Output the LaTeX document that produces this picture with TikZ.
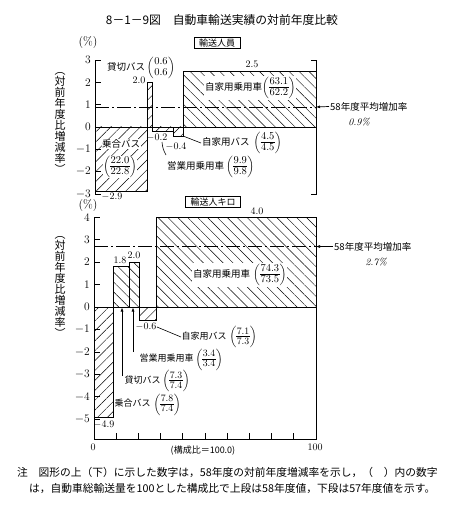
\documentclass[tikz,border=0pt]{standalone}
\usepackage{fontspec}
\usepackage{amsmath}
\usetikzlibrary{patterns.meta,arrows.meta}
\newfontfamily\jp{Noto Sans CJK JP}
\newcommand\frbody[3]{\ensuremath{\left(\vcenter{\hbox{\rmfamily\upshape\fontsize{10.5}{11}\selectfont\setlength\tabcolsep{0.5pt}\renewcommand\arraystretch{0.85}\begin{tabular}{c}#1\\#3\rule{0pt}{8pt}#2\end{tabular}}}\right)}}
\newcommand\fr[2]{\frbody{#1}{#2}{\hline}}
\newcommand\frn[2]{\frbody{#1}{#2}{}}
\newcommand\frs[2]{\ensuremath{\left(\vcenter{\hbox{\rmfamily\upshape\fontsize{9.8}{10}\selectfont\setlength\tabcolsep{0.5pt}\renewcommand\arraystretch{0.8}\begin{tabular}{c}#1\\\hline\rule{0pt}{7.3pt}#2\end{tabular}}}\right)}}
\begin{document}
\begin{tikzpicture}[x=1pt,y=-1pt,
  ax/.style={line width=0.8pt},
  bar/.style={draw,line width=0.8pt},
  ne/.style={pattern={Lines[angle=45,distance=7pt,line width=0.45pt]}},
  nw/.style={pattern={Lines[angle=-45,distance=7pt,line width=0.45pt]}},
  lab/.style={font=\jp\fontsize{9.5}{11}\selectfont, inner sep=1pt},
  labs/.style={font=\jp\fontsize{9}{10.5}\selectfont, inner sep=1pt},
  num/.style={font=\fontsize{10}{12}\selectfont, inner sep=0.5pt},
  tk/.style={font=\fontsize{11.5}{13}\selectfont, anchor=east, inner sep=1pt},
  hbox/.style={draw, line width=0.6pt, font=\jp\fontsize{9}{10}\selectfont, inner xsep=5pt, inner ysep=1.5pt},
  vlab/.style={font=\jp\fontsize{11}{11}\selectfont, align=center, inner sep=0pt},
  avg/.style={dash pattern=on 14pt off 3pt on 2pt off 3pt, line width=0.7pt},
  arr/.style={-{Latex[length=4pt,width=3pt]}, line width=0.7pt},
  lead/.style={line width=0.6pt},
  wf/.style={fill=white}
  ]
\useasboundingbox (0,0) rectangle (460,505);

% ---------- title ----------
\node[font=\jp\fontsize{11.8}{13}\selectfont] (title) at (222,20) {8－1－9図　自動車輸送実績の対前年度比較};

% ================= TOP CHART =================
\node[font=\fontsize{12}{14}\selectfont, inner sep=0pt] (pc1) at (88,43) {(\%)};
\node[hbox] (h1) at (217,43) {輸送人員};

% bars
\draw[bar,ne] (95,127) rectangle (147,191.7);
\draw[bar,ne] (147,127) rectangle (152,82.4);
\draw[bar,ne] (152,127) rectangle (173,131.5);
\draw[bar,ne] (173,127) rectangle (183,136);
\draw[bar,nw] (183,127) rectangle (316,71.2);

% zero line and average line
\draw[ax] (95,127) -- (316,127);
\draw[avg] (95,107) -- (316,107);

% axes
\draw[ax] (95,60.1) -- (95,193.9);
\draw[ax] (311,60.1) -- (316,60.1) -- (316,193.9) -- (311,193.9);
\foreach \v/\t [count=\i] in {3/3,2/2,1/1,0/0,-1/{$-$1},-2/{$-$2},-3/{$-$3}}{
  \node[tk] (ta\i) at (92,{127-\v*22.3}) {\t};
  \draw[ax] (95,{127-\v*22.3}) -- ++(6,0);
}
\node[vlab] (v1) at (60,123) {︵\\対\\前\\年\\度\\比\\増\\減\\率\\︶};

% labels
\node[lab, anchor=west] (kasA) at (106,67) {貸切バス};
\node[lab] (kasAf) at (161,68) {\frn{0.6}{0.6}};
\node[num] (v20a) at (139,80) {2.0};
\node[num] (v25) at (252,64) {2.5};
\node[lab, wf, inner sep=0.5pt] (norA) at (121,144) {乗合バス};
\node[lab, wf, inner sep=0.5pt] (norAf) at (120,167) {\fr{22.0}{22.8}};
\node[num] (v29) at (112,196.5) {$-$2.9};
\node[num] (v02) at (157,137.5) {$-$0.2};
\node[num] (v04) at (176,147) {$-$0.4};
\node[lab, anchor=west] (eigA) at (166,167) {営業用乗用車\hspace{2pt}\fr{9.9}{9.8}};
\node[lab, anchor=west] (jbA) at (201,143) {自家用バス\hspace{4pt}\fr{4.5}{4.5}};
\node[lab, wf, anchor=west] (jjA) at (204,88) {自家用乗用車\fr{63.1}{62.2}};
\coordinate (l1a) at (162,142);
\coordinate (a4c) at (183,136);
\draw[lead] (l1a) to[bend right=12] (eigA.north west);
\draw[lead] (a4c) -- (jbA.west);

\node[lab, anchor=west] (avgA) at (329,106.5) {58年度平均増加率};
\draw[arr] (avgA.west) -- (316,107);
\node[font=\fontsize{10}{12}\selectfont\itshape] (p09) at (359,122) {0.9\%};

% ================= BOTTOM CHART =================
\node[font=\fontsize{12}{14}\selectfont, inner sep=0pt] (pc2) at (88,206) {(\%)};
\node[hbox] (h2) at (213,202) {輸送人キロ};

\draw[bar,ne] (94,307) rectangle (113,417);
\draw[bar,nw] (113,307) rectangle (129,266.6);
\draw[bar,nw] (129,307) rectangle (139,262.1);
\draw[bar,ne] (139,307) rectangle (156,320.5);
\draw[bar,nw] (156,307) rectangle (316,217.2);

\draw[ax] (94,307) -- (316,307);
\draw[avg] (94,246.5) -- (316,246.5);

\draw[ax] (94,217.2) -- (94,439) -- (316,439) -- (316,217.2);
\foreach \v/\t [count=\i] in {4/4,3/3,2/2,1/1,0/0,-1/{$-$1},-2/{$-$2},-3/{$-$3},-4/{$-$4},-5/{$-$5}}{
  \node[tk] (tb\i) at (91,{307-\v*22.45}) {\t};
  \draw[ax] (94,{307-\v*22.45}) -- ++(6,0);
}
\foreach \k in {1,...,9}{
  \draw[ax] ({94+22.2*\k},439) -- ++(0,-6);
}
\node[font=\fontsize{10}{12}\selectfont] (x0) at (93,447) {0};
\node[font=\fontsize{10}{12}\selectfont] (x100) at (315,447) {100};
\node[labs] (xlab) at (203,451) {(構成比＝100.0)};

\node[vlab] (v2) at (60,287) {︵\\対\\前\\年\\度\\比\\増\\減\\率\\︶};

\node[num] (v18) at (120,260.5) {1.8};
\node[num] (v20b) at (134,255.5) {2.0};
\node[num] (v40) at (257,211) {4.0};
\node[num] (v49) at (104,425) {$-$4.9};
\node[num] (v06) at (146,327) {$-$0.6};
\node[lab, wf, anchor=west] (jjB) at (192,275) {自家用乗用車\hspace{3pt}\fr{74.3}{73.5}};

\node[labs, anchor=west, inner sep=0.3pt] (jbB) at (181,337) {自家用バス\hspace{3pt}\frs{7.1}{7.3}};
\node[labs, anchor=west, inner sep=0.3pt] (eigB) at (139,359.5) {営業用乗用車\hspace{2pt}\frs{3.4}{3.4}};
\node[labs, anchor=west, inner sep=0.3pt] (kasB) at (124,381) {貸切バス\hspace{2pt}\frs{7.3}{7.4}};
\node[labs, anchor=west, inner sep=0.3pt] (norB) at (114,404.5) {乗合バス\hspace{3pt}\frs{7.8}{7.4}};
\draw[lead] (v06.east) -- (jbB.west);
\coordinate (k1) at (122,376);
\coordinate (k2) at (133,352);
\draw[arr] (k1) -- (122,307.5);
\draw[arr] (k2) -- (133,307.5);

\node[lab, anchor=west] (avgB) at (333,246.5) {58年度平均増加率};
\draw[arr] (avgB.west) -- (316,246.5);
\node[font=\fontsize{10}{12}\selectfont\itshape] (p27) at (376,262) {2.7\%};

% ---------- note ----------
\node[font=\jp\fontsize{10.75}{13}\selectfont, anchor=west, inner sep=0pt] (n1) at (17,472) {注　図形の上（下）に示した数字は，58年度の対前年度増減率を示し，（　）内の数字};
\node[font=\jp\fontsize{10.75}{13}\selectfont, anchor=west, inner sep=0pt] (n2) at (29,489) {は，自動車総輸送量を100とした構成比で上段は58年度値，下段は57年度値を示す。};
\end{tikzpicture}
\end{document}
